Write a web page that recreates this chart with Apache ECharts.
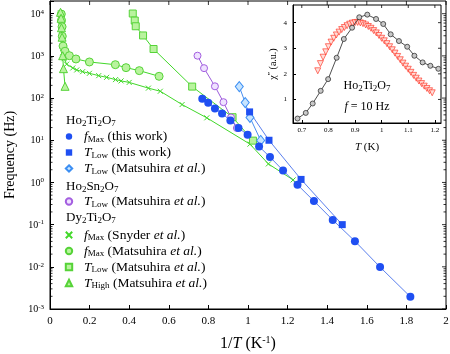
<!DOCTYPE html>
<html>
<head>
<meta charset="utf-8">
<script src="https://cdn.jsdelivr.net/npm/echarts@6/dist/echarts.min.js"></script>
<style>
  html, body { margin: 0; padding: 0; background: #fff; }
  #chart { width: 450px; height: 354px; }
</style>
</head>
<body>
<div id="chart"></div>
<script>
// Ho2Ti2O7 - f_Max (this work)
var hoTiFmaxX = [0.769, 0.799, 0.833, 0.869, 0.911, 0.952, 0.998, 1.056, 1.111, 1.177, 1.250, 1.333, 1.428, 1.540, 1.667, 1.820];
var hoTiFmaxY = [97, 77, 56.5, 43, 29.4, 19.5, 13.5, 7.1, 4.0, 1.93, 0.88, 0.363, 0.129, 0.0406, 0.00985, 0.00195];
// Ho2Ti2O7 - T_Low (this work)
var hoTiTlowX = [1.008, 1.106, 1.268, 1.476];
var hoTiTlowY = [47, 10, 1.18, 0.1];
// Ho2Ti2O7 - T_Low (Matsuhira et al.)
var hoTiTlowMX = [0.956, 0.986, 1.010, 1.064];
var hoTiTlowMY = [187, 78, 34.6, 9.9];
// Ho2Sn2O7 - T_Low (Matsuhira et al.)
var hoSnTlowX = [0.745, 0.778, 0.833, 0.876, 0.914, 0.944];
var hoSnTlowY = [1010, 512, 190, 80, 34.6, 19.5];
// Dy2Ti2O7 - f_Max (Snyder et al.)
var dyFmaxSX = [0.053, 0.056, 0.058, 0.061, 0.064, 0.071, 0.084, 0.115, 0.135, 0.165, 0.199, 0.246, 0.286, 0.331, 0.359, 0.400, 0.497, 0.557, 0.667, 0.792, 1.010, 1.103, 1.228];
var dyFmaxSY = [10500, 6800, 3940, 2050, 1190, 859, 636, 517, 464, 423, 386, 340, 310, 274, 255, 235, 172, 145, 70.2, 34.0, 8.09, 2.75, 1.15];
// Dy2Ti2O7 - f_Max (Matsuhira et al.)
var dyFmaxMX = [0.057, 0.058, 0.061, 0.062, 0.066, 0.076, 0.098, 0.131, 0.199, 0.330, 0.384, 0.451, 0.551];
var dyFmaxMY = [9790, 6980, 4900, 2920, 1710, 1290, 1010, 845, 717, 619, 526, 447, 328];
// Dy2Ti2O7 - T_Low (Matsuhira et al.)
var dyTlowMX = [0.418, 0.428, 0.433, 0.470, 0.523, 0.718, 0.922, 1.025];
var dyTlowMY = [10100, 6870, 5040, 3050, 1456, 187, 35.2, 9.8];
// Dy2Ti2O7 - T_High (Matsuhira et al.)
var dyThighMX = [0.053, 0.056, 0.058, 0.061, 0.064, 0.068, 0.076];
var dyThighMY = [10800, 7790, 4640, 2770, 1010, 498, 190];

// inset: chi'' vs T at 10 Hz
var insetCircT = [0.684, 0.715, 0.741, 0.771, 0.799, 0.831, 0.858, 0.889, 0.916, 0.946, 0.979, 1.006, 1.034, 1.065, 1.096, 1.123, 1.154, 1.183, 1.213];
var insetCircChi = [0.255, 0.474, 0.842, 1.336, 1.794, 2.628, 3.361, 3.803, 4.211, 4.313, 4.144, 3.948, 3.545, 3.282, 3.059, 2.707, 2.448, 2.315, 2.197];
var insetTriT = [0.76, 0.77, 0.78, 0.79, 0.80, 0.81, 0.82, 0.83, 0.84, 0.85, 0.86, 0.87, 0.88, 0.89, 0.90, 0.91, 0.92, 0.93, 0.94, 0.95, 0.96, 0.97,
                 0.98, 0.99, 1.00, 1.01, 1.02, 1.03, 1.04, 1.05, 1.06, 1.07, 1.08, 1.09, 1.10, 1.11, 1.12, 1.13, 1.14, 1.15, 1.16, 1.17, 1.18, 1.19];
var insetTriChi = [2.12, 2.40, 2.65, 2.86, 3.06, 3.24, 3.39, 3.52, 3.63, 3.73, 3.81, 3.88, 3.94, 3.98, 4.00, 4.01, 3.99, 3.96, 3.91, 3.85, 3.78, 3.69,
                   3.60, 3.50, 3.39, 3.29, 3.18, 3.06, 2.94, 2.81, 2.68, 2.55, 2.42, 2.30, 2.18, 2.06, 1.94, 1.83, 1.72, 1.62, 1.52, 1.43, 1.34, 1.26];

// tick values
var mainXTicks = [0, 0.2, 0.4, 0.6, 0.8, 1, 1.2, 1.4, 1.6, 1.8, 2];
var mainYDecades = [0.001, 0.01, 0.1, 1, 10, 100, 1000, 10000];
var insetXTicks = [0.7, 0.8, 0.9, 1, 1.1, 1.2];
var insetYTicks = [1, 2, 3, 4];

var FONT = 'Liberation Serif';
var X_MAX = 2, Y_MIN = 0.001, Y_MAX = 20000;
var IX_MIN = 0.667, IX_MAX = 1.223, IY_MIN = 0.08, IY_MAX = 4.69;

function pairs(xs, ys) {
  return xs.map(function (x, i) { return [x, ys[i]]; });
}

// log minor ticks (2..9 x 10^n)
var minorTicks = [];
for (var e = -3; e <= 4; e++) {
  for (var m = 2; m <= 9; m++) {
    var v = m * Math.pow(10, e);
    if (v < Y_MAX) minorTicks.push(v);
  }
}

var legendText = {
  hoTiFmax: '{i|f}{s|Max} (this work)',
  hoTiTlow: '{i|T}{s|Low} (this work)',
  hoTiTlowM: '{i|T}{s|Low} (Matsuhira {i|et al.})',
  hoSnTlow: '{i|T}{s|Low} (Matsuhira {i|et al.})',
  dyFmaxS: '{i|f}{s|Max} (Snyder {i|et al.})',
  dyFmaxM: '{i|f}{s|Max} (Matsuhira {i|et al.})',
  dyTlowM: '{i|T}{s|Low} (Matsuhira {i|et al.})',
  dyThighM: '{i|T}{s|High} (Matsuhira {i|et al.})'
};

var richText = {
  i: { fontFamily: FONT, fontStyle: 'italic', fontSize: 13.5, lineHeight: 15 },
  s: { fontFamily: FONT, fontSize: 9, lineHeight: 9, verticalAlign: 'bottom' }
};
var headRich = {
  s: { fontFamily: FONT, fontSize: 9, lineHeight: 9, verticalAlign: 'bottom' },
  i: { fontFamily: FONT, fontStyle: 'italic', fontSize: 12, lineHeight: 15 }
};

var blue = '#1f4ff2', green = '#42d82a', greenFill = '#b9f39e', greenEdge = '#56d338';

function legendBlock(names, top) {
  return {
    data: names,
    orient: 'vertical',
    left: 58,
    top: top,
    padding: 0,
    itemGap: 1,
    itemWidth: 20,
    itemHeight: 8,
    selectedMode: false,
    lineStyle: { opacity: 0 },
    formatter: function (name) { return legendText[name]; },
    textStyle: { fontFamily: FONT, fontSize: 13.5, lineHeight: 15, color: '#000', rich: richText }
  };
}

// short tick marks drawn on the frame edges (mirrored ticks)
function tickSeries(xIdx, yIdx, data, dx, dy) {
  return {
    type: 'custom', xAxisIndex: xIdx, yAxisIndex: yIdx, silent: true, z: 6,
    data: data,
    renderItem: function (params, api) {
      var p = api.coord([api.value(0), api.value(1)]);
      return {
        type: 'line',
        shape: { x1: p[0], y1: p[1], x2: p[0] + dx, y2: p[1] + dy },
        style: { stroke: '#000', lineWidth: 0.8 }
      };
    }
  };
}

var chart = echarts.init(document.getElementById('chart'));
chart.setOption({
  animation: false,
  backgroundColor: '#fff',
  textStyle: { fontFamily: FONT },
  grid: [
    { left: 50, right: 4, top: 1, bottom: 45, outerBoundsMode: 'none', containLabel: false,
      show: true, borderColor: '#000', borderWidth: 1, backgroundColor: 'transparent' },
    { left: 293, right: 9, top: 5, bottom: 231, outerBoundsMode: 'none', containLabel: false,
      show: true, backgroundColor: '#fff', borderColor: '#000', borderWidth: 1 }
  ],
  legend: [
    legendBlock(['hoTiFmax', 'hoTiTlow', 'hoTiTlowM'], 129),
    legendBlock(['hoSnTlow'], 194),
    legendBlock(['dyFmaxS', 'dyFmaxM', 'dyTlowM', 'dyThighM'], 227.5)
  ],
  xAxis: [
    {
      type: 'value', gridIndex: 0, min: 0, max: X_MAX, interval: 0.2,
      axisLine: { show: true, onZero: false, lineStyle: { color: '#000' } },
      axisTick: { show: true, inside: true, length: 4, lineStyle: { color: '#000' } },
      splitLine: { show: false },
      axisLabel: { fontSize: 11, color: '#000', margin: 7 },
      name: '1/{i|T} (K{sup|-1})', nameLocation: 'middle', nameGap: 26,
      nameTextStyle: {
        fontSize: 16, color: '#000', fontFamily: FONT,
        rich: {
          i: { fontSize: 16, fontStyle: 'italic', fontFamily: FONT, lineHeight: 18 },
          sup: { fontSize: 10, lineHeight: 10, verticalAlign: 'top', fontFamily: FONT }
        }
      }
    },
    {
      type: 'value', gridIndex: 1, min: IX_MIN, max: IX_MAX,
      axisLine: { show: true, onZero: false, lineStyle: { color: '#000' } },
      axisTick: { show: true, inside: true, length: 3, customValues: insetXTicks, lineStyle: { color: '#000' } },
      splitLine: { show: false },
      axisLabel: { fontSize: 7, color: '#000', margin: 4, customValues: insetXTicks },
      name: '{i|T} (K)', nameLocation: 'middle', nameGap: 19,
      nameTextStyle: {
        fontSize: 11, color: '#000', fontFamily: FONT,
        rich: { i: { fontSize: 11, fontStyle: 'italic', fontFamily: FONT } }
      }
    }
  ],
  yAxis: [
    {
      type: 'log', gridIndex: 0, min: Y_MIN, max: Y_MAX, splitNumber: 7,
      axisLine: { show: true, onZero: false, lineStyle: { color: '#000' } },
      axisTick: { show: true, inside: true, length: 4, lineStyle: { color: '#000' } },
      splitLine: { show: false },
      axisLabel: {
        color: '#000', margin: 6,
        formatter: function (val) {
          var l = Math.log10(val), e = Math.round(l);
          if (Math.abs(l - e) > 1e-6) return '';
          return '{b|10}{sup|' + e + '}';
        },
        rich: {
          b: { fontSize: 10, lineHeight: 11, verticalAlign: 'bottom', fontFamily: FONT, color: '#000' },
          sup: { fontSize: 7, lineHeight: 8, padding: [0, 0, 6, 0], verticalAlign: 'top', fontFamily: FONT, color: '#000' }
        }
      },
      name: 'Frequency (Hz)', nameLocation: 'middle', nameGap: 31,
      nameTextStyle: { fontSize: 14, color: '#000', fontFamily: FONT }
    },
    {
      type: 'value', gridIndex: 1, min: IY_MIN, max: IY_MAX, position: 'left',
      axisLine: { show: true, onZero: false, lineStyle: { color: '#000' } },
      axisTick: { show: true, inside: true, length: 3, customValues: insetYTicks, lineStyle: { color: '#000' } },
      splitLine: { show: false },
      axisLabel: { fontSize: 7, color: '#000', margin: 6, customValues: insetYTicks },
      name: '\u03c7{sup|\u2033} (a.u.)', nameLocation: 'middle', nameGap: 15,
      nameTextStyle: {
        fontSize: 10, color: '#000', fontFamily: FONT,
        rich: { sup: { fontSize: 8, lineHeight: 8, verticalAlign: 'top', fontFamily: FONT } }
      }
    }
  ],
  graphic: [
    { type: 'text', z: 100, style: { x: 66, y: 121, verticalAlign: 'middle', text: 'Ho{s|2}Ti{s|2}O{s|7}', fontSize: 13, fontFamily: FONT, fill: '#000', lineHeight: 15, rich: headRich } },
    { type: 'text', z: 100, style: { x: 66, y: 187, verticalAlign: 'middle', text: 'Ho{s|2}Sn{s|2}O{s|7}', fontSize: 13, fontFamily: FONT, fill: '#000', lineHeight: 15, rich: headRich } },
    { type: 'text', z: 100, style: { x: 66, y: 217.5, verticalAlign: 'middle', text: 'Dy{s|2}Ti{s|2}O{s|7}', fontSize: 13, fontFamily: FONT, fill: '#000', lineHeight: 15, rich: headRich } },
    { type: 'text', z: 100, style: { x: 367, y: 86, align: 'center', verticalAlign: 'middle', text: 'Ho{s|2}Ti{s|2}O{s|7}', fontSize: 12, fontFamily: FONT, fill: '#000', lineHeight: 15, rich: headRich } },
    { type: 'text', z: 100, style: { x: 367, y: 106.5, align: 'center', verticalAlign: 'middle', text: '{i|f} = 10 Hz', fontSize: 12, fontFamily: FONT, fill: '#000', lineHeight: 15, rich: headRich } }
  ],
  series: [
    // frame ticks: main top, main right, log minor left/right, inset top/right
    tickSeries(0, 0, mainXTicks.map(function (t) { return [t, Y_MAX]; }), 0, 4),
    tickSeries(0, 0, mainYDecades.map(function (t) { return [X_MAX, t]; }), -4, 0),
    tickSeries(0, 0, minorTicks.map(function (t) { return [0, t]; }), 2.5, 0),
    tickSeries(0, 0, minorTicks.map(function (t) { return [X_MAX, t]; }), -2.5, 0),
    tickSeries(1, 1, insetXTicks.map(function (t) { return [t, IY_MAX]; }), 0, 3),
    tickSeries(1, 1, insetYTicks.map(function (t) { return [IX_MAX, t]; }), -3, 0),
    {
      name: 'dyFmaxS', type: 'line', data: pairs(dyFmaxSX, dyFmaxSY),
      symbol: 'path://M0,0L10,10M10,0L0,10', symbolSize: 5, legendIcon: 'path://M0,0L10,10M10,0L0,10',
      itemStyle: { color: 'rgba(0,0,0,0)', borderColor: green, borderWidth: 1 },
      lineStyle: { color: green, width: 1 }
    },
    {
      name: 'dyFmaxM', type: 'line', data: pairs(dyFmaxMX, dyFmaxMY),
      symbol: 'circle', symbolSize: 8, legendIcon: 'circle',
      itemStyle: { color: greenFill, borderColor: greenEdge, borderWidth: 1 },
      lineStyle: { color: green, width: 1 }
    },
    {
      name: 'dyTlowM', type: 'line', data: pairs(dyTlowMX, dyTlowMY),
      symbol: 'rect', symbolSize: 7, legendIcon: 'rect',
      itemStyle: { color: greenFill, borderColor: greenEdge, borderWidth: 1 },
      lineStyle: { color: green, width: 1 }
    },
    {
      name: 'dyThighM', type: 'line', data: pairs(dyThighMX, dyThighMY),
      symbol: 'triangle', symbolSize: 8, legendIcon: 'triangle',
      itemStyle: { color: greenFill, borderColor: greenEdge, borderWidth: 1 },
      lineStyle: { color: green, width: 1 }
    },
    {
      name: 'hoSnTlow', type: 'line', data: pairs(hoSnTlowX, hoSnTlowY),
      symbol: 'circle', symbolSize: 7, legendIcon: 'circle',
      itemStyle: { color: '#efe2ff', borderColor: '#a45ee0', borderWidth: 1 },
      lineStyle: { color: '#9b5bdb', width: 1 }
    },
    {
      name: 'hoTiTlowM', type: 'line', data: pairs(hoTiTlowMX, hoTiTlowMY),
      symbol: 'diamond', symbolSize: [8, 10], legendIcon: 'diamond',
      itemStyle: { color: '#c6e4ff', borderColor: '#3b8ef3', borderWidth: 1 },
      lineStyle: { color: '#4a8ff0', width: 1 }
    },
    {
      name: 'hoTiTlow', type: 'line', data: pairs(hoTiTlowX, hoTiTlowY),
      symbol: 'rect', symbolSize: 7, legendIcon: 'rect',
      itemStyle: { color: blue },
      lineStyle: { color: '#5b80ee', width: 1 }
    },
    {
      name: 'hoTiFmax', type: 'line', data: pairs(hoTiFmaxX, hoTiFmaxY),
      symbol: 'circle', symbolSize: 8, legendIcon: 'circle',
      itemStyle: { color: blue },
      lineStyle: { color: '#5b80ee', width: 1 }
    },
    {
      name: 'insetTri', type: 'scatter', xAxisIndex: 1, yAxisIndex: 1, z: 4,
      data: pairs(insetTriT, insetTriChi),
      symbol: 'triangle', symbolRotate: 180, symbolSize: 6,
      itemStyle: { color: '#ffd6cf', borderColor: '#ff2a1a', borderWidth: 0.8 }
    },
    {
      name: 'insetCirc', type: 'line', xAxisIndex: 1, yAxisIndex: 1, z: 5,
      data: pairs(insetCircT, insetCircChi),
      symbol: 'circle', symbolSize: 5,
      itemStyle: { color: '#c8c8c8', borderColor: '#333', borderWidth: 0.8 },
      lineStyle: { color: '#222', width: 0.8 }
    }
  ]
});
</script>
</body>
</html>
